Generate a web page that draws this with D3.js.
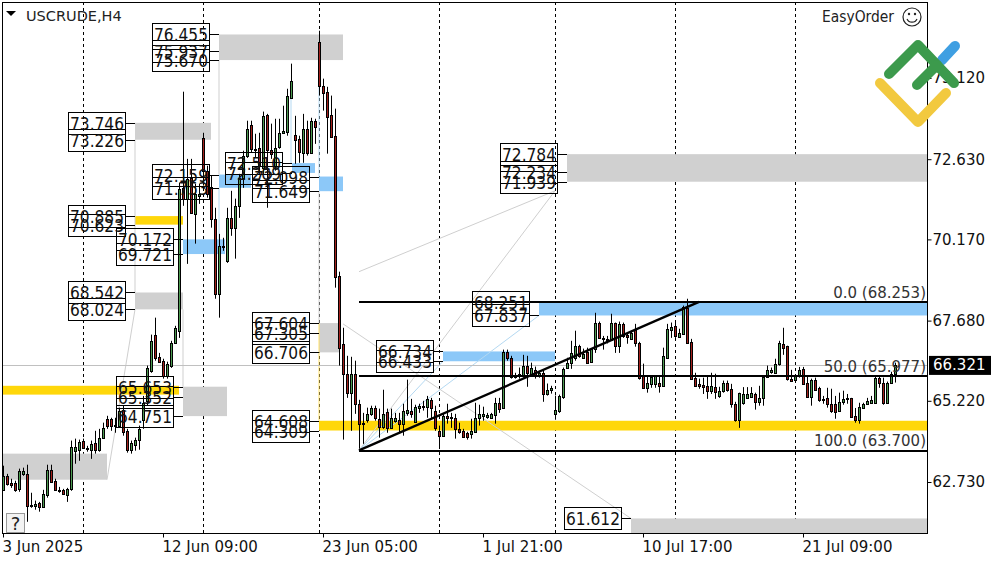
<!DOCTYPE html>
<html>
<head>
<meta charset="utf-8">
<script src="https://cdn.jsdelivr.net/npm/d3@7"></script>
<style>
  html, body { margin: 0; padding: 0; background: #fff; }
  text { font-family: "DejaVu Sans", sans-serif; }
</style>
</head>
<body>
<svg id="chart" width="1000" height="562"></svg>
<script>
// one row per H4 bar: open, high, low, close
const candles = [
  [62.49,63.23,62.46,62.92],[62.92,62.98,62.62,62.68],[62.71,62.83,62.55,62.65],[62.71,62.77,62.43,62.49],
  [62.52,63.14,62.43,63.08],[62.98,63.17,62.92,63.08],[62.98,63.26,61.51,62.00],[62.00,62.40,61.94,62.03],
  [62.00,62.16,61.88,62.06],[62.09,62.12,61.82,61.97],[61.97,62.49,61.94,62.37],[62.34,63.26,62.25,63.11],
  [63.11,63.26,62.71,62.74],[62.77,62.83,62.46,62.49],[62.46,62.58,62.40,62.49],[62.49,62.52,62.34,62.37],
  [62.34,62.55,62.12,62.52],[62.52,64.00,62.46,63.81],[63.69,64.06,63.29,63.81],[63.72,64.03,63.38,63.97],
  [64.00,64.06,63.75,63.78],[63.78,63.84,63.66,63.75],[63.72,64.00,63.44,63.90],[63.93,64.30,63.60,63.72],
  [63.72,64.36,63.66,64.09],[64.09,64.55,64.09,64.39],[64.67,64.76,64.36,64.45],[64.67,64.70,64.30,64.46],
  [64.48,64.70,64.24,64.46],[64.46,65.01,64.42,64.92],[64.95,65.07,64.15,64.27],[64.30,64.36,63.63,63.72],
  [63.72,64.00,63.60,63.93],[63.87,64.09,63.69,64.03],[64.03,64.46,63.72,64.36],[64.64,65.37,64.36,65.16],
  [65.22,66.30,65.07,66.23],[66.14,67.25,66.08,67.06],[67.25,67.77,66.45,66.54],[66.57,66.69,66.39,66.42],
  [66.45,66.51,65.90,65.99],[65.99,66.42,65.90,66.36],[66.30,67.06,66.23,67.00],[67.00,67.52,66.97,67.46],
  [67.37,71.91,67.15,71.72],[71.75,74.70,71.20,71.42],[71.42,72.64,69.42,72.03],[72.06,72.64,70.96,70.99],
  [70.96,71.88,70.04,71.57],[71.51,71.88,71.26,71.57],[73.29,73.44,71.82,72.28],[72.28,72.43,71.45,71.57],
  [71.79,72.12,70.53,70.80],[70.80,71.14,68.35,68.50],[68.50,70.34,67.77,69.98],[69.98,70.22,69.82,69.95],
  [69.52,71.14,69.45,70.83],[70.83,71.66,70.28,70.53],[70.53,71.42,69.58,71.20],[71.20,72.18,70.83,72.06],
  [72.06,72.89,71.75,72.74],[72.74,73.81,72.67,73.56],[73.69,73.81,72.83,72.95],[72.95,73.41,72.67,72.92],
  [72.98,73.44,72.18,72.43],[72.37,74.09,72.18,73.96],[73.99,74.02,71.14,72.92],[72.92,73.72,72.64,72.80],
  [72.43,73.87,72.28,72.98],[73.01,73.87,72.95,73.44],[73.44,74.27,73.41,73.50],[73.47,74.79,73.35,74.58],
  [74.52,75.56,74.52,75.04],[73.38,73.96,72.49,73.23],[73.26,73.35,72.52,72.86],[72.83,74.02,72.52,73.56],
  [73.56,73.81,72.74,72.83],[72.83,73.90,72.80,73.81],[73.81,73.87,73.10,73.63],[76.23,76.57,74.58,74.88],
  [74.88,75.10,74.12,74.67],[74.70,74.85,72.80,73.93],[73.99,74.58,73.29,73.32],[73.35,74.18,68.69,69.03],
  [69.06,69.18,66.30,66.85],[66.97,67.46,64.03,66.05],[66.05,66.60,65.31,65.47],[65.47,66.57,64.30,66.05],
  [66.05,66.45,64.82,65.13],[65.13,65.25,63.75,64.52],[64.55,64.85,63.90,64.52],[64.64,65.01,64.55,64.82],
  [64.82,65.07,64.76,65.01],[65.01,65.07,64.61,64.70],[64.67,64.98,64.09,64.42],[64.42,65.56,64.36,64.82],
  [64.88,64.98,64.24,64.39],[64.39,64.98,64.36,64.70],[64.61,64.85,64.55,64.70],[64.64,64.85,64.24,64.52],
  [64.52,65.13,64.15,64.92],[64.85,65.87,64.76,64.95],[64.92,65.28,64.70,64.82],[64.58,65.10,64.55,65.04],
  [65.01,65.13,64.85,65.07],[65.07,65.22,64.92,65.04],[65.04,65.37,64.70,65.28],[65.25,65.31,64.67,65.01],
  [64.92,65.07,64.30,64.39],[64.30,64.46,63.78,64.15],[64.15,64.82,64.15,64.76],[64.76,65.13,64.52,64.70],
  [64.73,64.85,64.39,64.70],[64.70,64.82,64.06,64.36],[64.36,64.55,64.21,64.27],[64.30,64.36,64.09,64.12],
  [64.24,64.27,64.03,64.12],[64.21,64.67,64.06,64.30],[64.27,65.16,64.24,64.70],[64.70,65.10,64.46,64.82],
  [64.76,65.04,64.61,64.82],[64.73,64.85,64.67,64.79],[64.70,64.85,64.67,64.82],[64.79,65.31,64.52,65.16],
  [65.16,65.31,64.85,64.98],[65.01,66.79,64.98,66.72],[66.72,66.79,66.45,66.54],[66.54,66.60,65.90,65.96],
  [66.02,66.08,65.90,65.96],[66.02,66.24,65.90,66.05],[66.02,66.63,65.93,66.30],[66.30,66.60,65.65,66.08],
  [66.05,66.39,65.99,66.24],[66.17,66.27,65.90,66.02],[66.02,66.14,65.93,66.08],[66.08,66.17,65.19,65.44],
  [65.44,65.75,65.38,65.56],[65.56,65.68,65.44,65.62],[64.82,65.38,64.64,64.95],[64.92,65.41,64.85,65.38],
  [65.35,66.24,65.28,66.20],[66.23,66.54,66.20,66.39],[66.39,67.06,66.20,66.69],[66.54,67.37,66.45,66.91],
  [66.91,66.94,66.54,66.60],[66.54,66.82,66.51,66.66],[66.72,66.85,66.36,66.39],[66.42,66.82,66.39,66.82],
  [66.82,67.92,66.69,67.62],[67.62,67.65,67.12,67.15],[67.15,67.21,66.79,67.12],[67.12,67.21,66.98,67.09],
  [67.09,67.89,67.06,67.62],[67.62,67.62,66.69,66.91],[66.91,67.65,66.69,67.58],[67.58,67.62,67.15,67.22],
  [67.24,67.31,66.97,67.18],[67.12,67.37,67.09,67.31],[67.40,67.58,66.88,67.00],[67.00,67.03,65.87,65.93],
  [65.99,66.36,65.59,65.62],[65.62,65.99,65.47,65.78],[65.74,65.96,65.62,65.96],[65.74,65.99,65.62,65.99],
  [65.78,65.99,65.47,65.68],[65.68,66.85,65.65,66.60],[66.54,67.58,66.51,67.43],[67.40,67.62,67.15,67.49],
  [67.52,67.65,67.15,67.21],[67.18,67.43,67.15,67.31],[67.28,68.14,67.28,68.11],[68.08,68.35,66.97,67.00],
  [67.03,67.12,65.90,65.90],[65.93,66.08,65.65,65.68],[65.74,65.90,65.59,65.68],[65.71,65.93,65.43,65.65],
  [65.68,65.99,65.28,65.53],[65.53,66.08,65.43,65.68],[65.65,66.05,65.28,65.50],[65.37,65.65,65.31,65.53],
  [65.53,65.84,65.47,65.78],[65.78,65.84,65.50,65.56],[65.59,65.74,65.01,65.13],[65.13,65.19,64.58,64.64],
  [64.64,65.47,64.39,65.47],[65.16,65.64,65.10,65.44],[65.31,65.64,65.28,65.44],[65.34,65.64,65.31,65.47],
  [65.44,65.47,64.95,65.19],[65.19,65.68,65.07,65.31],[65.31,65.99,65.07,65.96],[65.96,66.30,65.93,66.17],
  [66.12,66.24,66.05,66.17],[66.08,66.51,66.05,66.36],[66.36,67.06,66.30,67.00],[66.97,67.46,66.63,66.85],
  [66.91,66.91,65.84,65.90],[65.90,66.17,65.81,65.84],[65.87,66.02,65.78,65.99],[65.99,66.26,65.93,66.17],
  [66.20,66.26,65.75,65.75],[65.78,65.96,65.31,65.34],[65.34,65.90,65.07,65.87],[65.87,65.93,65.53,65.56],
  [65.62,65.65,65.19,65.25],[65.28,65.37,65.13,65.25],[65.31,65.62,65.01,65.13],[65.13,65.59,64.85,64.92],
  [65.13,65.37,64.67,64.89],[64.92,65.47,64.89,65.19],[65.19,65.53,65.10,65.28],[65.28,65.43,65.13,65.31],
  [65.31,65.31,64.70,64.73],[64.76,65.00,64.55,64.64],[64.64,65.16,64.52,65.04],[65.01,65.16,64.98,65.13],
  [65.13,65.31,65.13,65.22],[65.16,65.37,65.13,65.25],[65.16,65.99,65.13,65.93],[65.93,65.99,65.62,65.78],
  [65.78,65.93,65.10,65.16],[65.16,65.81,65.13,65.78],[65.78,66.11,65.75,66.05],[66.05,66.39,65.78,66.32]
]

const priceTicks = [75.12, 72.63, 70.17, 67.68, 65.22, 62.73]
const timeTicks = [0, 40, 80, 120, 160, 200]
const timeLabels = ["3 Jun 2025", "12 Jun 09:00", "23 Jun 05:00", "1 Jul 21:00", "10 Jul 17:00", "21 Jul 09:00"]
const gridBars = [20, 50, 79, 109, 138, 168, 198]
const lastPrice = 66.321

// kind, first bar, last bar, labelled levels (prices)
const zones = [
  ["neutral", 54, 85, [76.455, 75.937, 75.670]],
  ["neutral", 33, 52, [73.746, 73.226]],
  ["gold", 33, 45, [70.885, 70.623]],
  ["sky", 45, 55.5, [70.172, 69.721]],
  ["neutral", 33, 45, [68.542, 68.024]],
  ["neutral", 45, 56, [65.653, 65.352, 64.751]],
  ["sky", 54, 62, [72.159, 71.753]],
  ["sky", 72.25, 78, [72.510, 72.209]],
  ["sky", 79, 85, [72.098, 71.649]],
  ["neutral", 79, 84.25, [67.604, 67.305, 66.706]],
  ["gold", 79, 231, [64.608, 64.309]],
  ["neutral", 141, 231, [72.784, 72.234, 71.939]],
  ["sky", 134, 231, [68.251, 67.837]],
  ["sky", 110, 138, [66.734, 66.433]],
  ["neutral", 157, 231, [61.612]]
]
// same bands, but with no price label on the chart
const plainZones = [
  ["gold", -1, 44, 65.68, 65.41],
  ["neutral", -1, 26, 63.60, 62.80],
  ["neutral", 157, 231, 61.612, 61.00]
]

const fibLevels = [68.253, 65.977, 63.700]
const fibNames = ["0.0", "50.0", "100.0"]
const fibFrom = 89
const trendLine = [[89, 63.70], [174, 68.253]]

// kind, bar a, price a, bar b, price b
const guides = [
  ["neutral", 33, 73.226, 33, 68.54],
  ["neutral", 33, 68.024, 26, 62.80],
  ["neutral", 45, 68.024, 45, 65.653],
  ["neutral", 54, 75.670, 54, 72.159],
  ["sky", 54, 71.753, 54, 70.172],
  ["sky", 79, 74.90, 79, 72.098],
  ["neutral", 79, 71.649, 79, 67.604],
  ["gold", 79, 67.604, 79, 64.608],
  ["sky", 72, 74.50, 72, 72.510],
  ["neutral", 89, 69.18, 138, 71.66],
  ["neutral", 89, 63.70, 138, 71.66],
  ["sky", 89, 63.70, 134, 67.837],
  ["sky", 89, 63.70, 110, 66.433],
  ["neutral", 85, 67.58, 157, 61.612]
]

const bandColor = { neutral: "#d0d0d0", gold: "#ffd70a", sky: "#8cc8f8" }
const guideColor = { neutral: "#cfcfcf", gold: "#ffe066", sky: "#b4d9f2" }

;(function () {
  "use strict"

  const frame = { left: 2, top: 2, right: 927, bottom: 533 }
  const boxW = 57, boxH = 22, boxGap = 10

  let svg = d3.select("#chart")
  let x = d3.scaleLinear().domain([0, candles.length - 1]).range([3, 895])
  let y = d3.scaleLinear().domain([62.73, 75.12]).range([482, 78])
  let snap = function (v) { return Math.round(v) + 0.5 }

  svg.append("clipPath").attr("id", "plot").append("rect")
    .attr("x", frame.left).attr("y", frame.top)
    .attr("width", frame.right - frame.left).attr("height", frame.bottom - frame.top)

  let plot = svg.append("g").attr("clip-path", "url(#plot)")

  // grid
  plot.selectAll(".grid").data(gridBars).join("line")
    .attr("x1", d => snap(x(d))).attr("x2", d => snap(x(d)))
    .attr("y1", frame.top).attr("y2", frame.bottom)
    .attr("stroke", "#000").attr("stroke-dasharray", "3,3")

  // bands
  let bands = zones.map(z => [z[0], z[1], z[2], d3.max(z[3]), d3.min(z[3])])
    .filter(b => b[3] !== b[4]).concat(plainZones)
  plot.selectAll(".band").data(bands).join("rect")
    .attr("x", d => x(d[1])).attr("width", d => x(d[2]) - x(d[1]))
    .attr("y", d => y(d[3])).attr("height", d => y(d[4]) - y(d[3]))
    .attr("fill", d => bandColor[d[0]])

  // thin guide lines
  plot.selectAll(".guide").data(guides).join("line")
    .attr("x1", d => x(d[1])).attr("y1", d => y(d[2]))
    .attr("x2", d => x(d[3])).attr("y2", d => y(d[4]))
    .attr("stroke", d => guideColor[d[0]]).attr("stroke-width", 1)

  // last price line
  plot.append("line")
    .attr("x1", frame.left).attr("x2", frame.right)
    .attr("y1", snap(y(lastPrice))).attr("y2", snap(y(lastPrice)))
    .attr("stroke", "#c0c0c0")

  // level labels, the boxes are see-through in the original
  let levelRows = []
  for (let z of zones) {
    for (let p of z[3]) levelRows.push({ bar: z[1], price: p })
  }
  let lab = svg.append("g")
  lab.selectAll("rect").data(levelRows).join("rect")
    .attr("x", d => snap(x(d.bar)) - boxGap - boxW)
    .attr("y", d => snap(y(d.price)) - boxH / 2)
    .attr("width", boxW).attr("height", boxH)
    .attr("fill", "none").attr("stroke", "#000")
  lab.selectAll("line").data(levelRows).join("line")
    .attr("x1", d => snap(x(d.bar)) - boxGap).attr("x2", d => x(d.bar))
    .attr("y1", d => snap(y(d.price))).attr("y2", d => snap(y(d.price)))
    .attr("stroke", "#000")
  lab.selectAll("text").data(levelRows).join("text")
    .attr("x", d => snap(x(d.bar)) - boxGap - boxW / 2)
    .attr("y", d => snap(y(d.price)))
    .attr("dy", "0.36em")
    .attr("text-anchor", "middle")
    .attr("font-size", 18)
    .attr("textLength", 54)
    .attr("lengthAdjust", "spacingAndGlyphs")
    .attr("fill", "#111")
    .text(d => d.price.toFixed(3))

  // candles
  let bars = plot.append("g").selectAll("g").data(candles).join("g")
  bars.append("line")
    .attr("x1", (d, i) => snap(x(i))).attr("x2", (d, i) => snap(x(i)))
    .attr("y1", d => y(d[1])).attr("y2", d => y(d[2]))
    .attr("stroke", "#000")
  bars.append("rect")
    .attr("x", (d, i) => snap(x(i)) - 1)
    .attr("width", 2)
    .attr("y", d => snap(y(Math.max(d[0], d[3]))))
    .attr("height", d => Math.max(1, Math.round(Math.abs(y(d[0]) - y(d[3])))))
    .attr("fill", d => d[3] >= d[0] ? "#4c9a50" : "#a3201c")
    .attr("stroke", "#000")

  // fibo and trend line
  plot.selectAll(".fib").data(fibLevels).join("line")
    .attr("x1", x(fibFrom)).attr("x2", frame.right)
    .attr("y1", d => Math.round(y(d) + 0.3)).attr("y2", d => Math.round(y(d) + 0.3))
    .attr("stroke", "#000").attr("stroke-width", 2)
  plot.append("line")
    .attr("x1", x(trendLine[0][0])).attr("y1", y(trendLine[0][1]))
    .attr("x2", x(trendLine[1][0])).attr("y2", y(trendLine[1][1]))
    .attr("stroke", "#000").attr("stroke-width", 2.4)
  svg.selectAll(".fibtext").data(fibLevels).join("text")
    .attr("x", frame.right - 1)
    .attr("y", d => y(d) - 4)
    .attr("text-anchor", "end")
    .attr("font-size", 15)
    .attr("fill", "#333")
    .text((d, i) => fibNames[i] + " (" + d.toFixed(3) + ")")

  // frame
  svg.append("rect")
    .attr("x", frame.left + 0.5).attr("y", frame.top + 0.5)
    .attr("width", frame.right - frame.left).attr("height", frame.bottom - frame.top)
    .attr("fill", "none").attr("stroke", "#000")

  // axes
  let yAxis = d3.axisRight(y).tickValues(priceTicks).tickSize(4).tickPadding(1).tickFormat(d3.format(".3f"))
  let gy = svg.append("g").attr("transform", "translate(" + (frame.right + 0.5) + ",0)").call(yAxis)
  gy.select(".domain").remove()
  gy.selectAll("text").attr("font-family", "DejaVu Sans").attr("font-size", 15).attr("fill", "#111")

  let xAxis = d3.axisBottom(x).tickValues(timeTicks).tickSize(4).tickFormat((d, i) => timeLabels[i])
  let gx = svg.append("g").attr("transform", "translate(0," + (frame.bottom + 0.5) + ")").call(xAxis)
  gx.select(".domain").remove()
  gx.selectAll("text").attr("font-family", "DejaVu Sans").attr("font-size", 15).attr("fill", "#111")
    .attr("text-anchor", "start").attr("y", 8).attr("dy", "0.71em").attr("x", -1)

  // current price tag
  svg.append("rect").attr("x", 929).attr("y", y(lastPrice) - 9).attr("width", 62).attr("height", 19).attr("fill", "#000")
  svg.append("text").attr("x", 933).attr("y", y(lastPrice)).attr("dy", "0.36em")
    .attr("font-size", 15).attr("fill", "#fff").text(lastPrice.toFixed(3))

  // chart header
  svg.append("path").attr("d", "M6,11H16L11,16Z").attr("fill", "#000")
  svg.append("text").attr("x", 26).attr("y", 21).attr("font-size", 14.5).attr("fill", "#222").text("USCRUDE,H4")
  svg.append("text").attr("x", 822).attr("y", 22).attr("font-size", 15)
    .attr("textLength", 72).attr("lengthAdjust", "spacingAndGlyphs").attr("fill", "#222").text("EasyOrder")

  // smiley
  let face = svg.append("g").attr("transform", "translate(912,17)")
  face.append("circle").attr("r", 9).attr("fill", "none").attr("stroke", "#222").attr("stroke-width", 1.2)
  face.append("circle").attr("cx", -3).attr("cy", -3).attr("r", 1.2).attr("fill", "#222")
  face.append("circle").attr("cx", 3).attr("cy", -3).attr("r", 1.2).attr("fill", "#222")
  face.append("path").attr("d", "M-5,2A5.5,5.5 0 0 0 5,2").attr("fill", "none").attr("stroke", "#222").attr("stroke-width", 1.2)

  // help button
  svg.append("rect").attr("x", 6.5).attr("y", 513.5).attr("width", 18).attr("height", 19)
    .attr("fill", "#f3f3f3").attr("stroke", "#999")
  svg.append("text").attr("x", 15.5).attr("y", 530).attr("text-anchor", "middle").attr("font-size", 18).attr("fill", "#222").text("?")

  // logo
  let logo = svg.append("g").attr("fill", "none").attr("stroke-width", 10)
    .attr("stroke-linecap", "round").attr("stroke-linejoin", "round")
  logo.append("path").attr("d", "M942,60L955,46").attr("stroke", "#3f9fe2")
  logo.append("path").attr("d", "M880,83L918,122L946,93").attr("stroke", "#f2c93f")
  logo.append("path").attr("d", "M889,74L918,45L954,83").attr("stroke", "#3c9a4c")
  logo.append("path").attr("d", "M917,85L937,65").attr("stroke", "#3c9a4c")
})()
</script>
</body>
</html>
